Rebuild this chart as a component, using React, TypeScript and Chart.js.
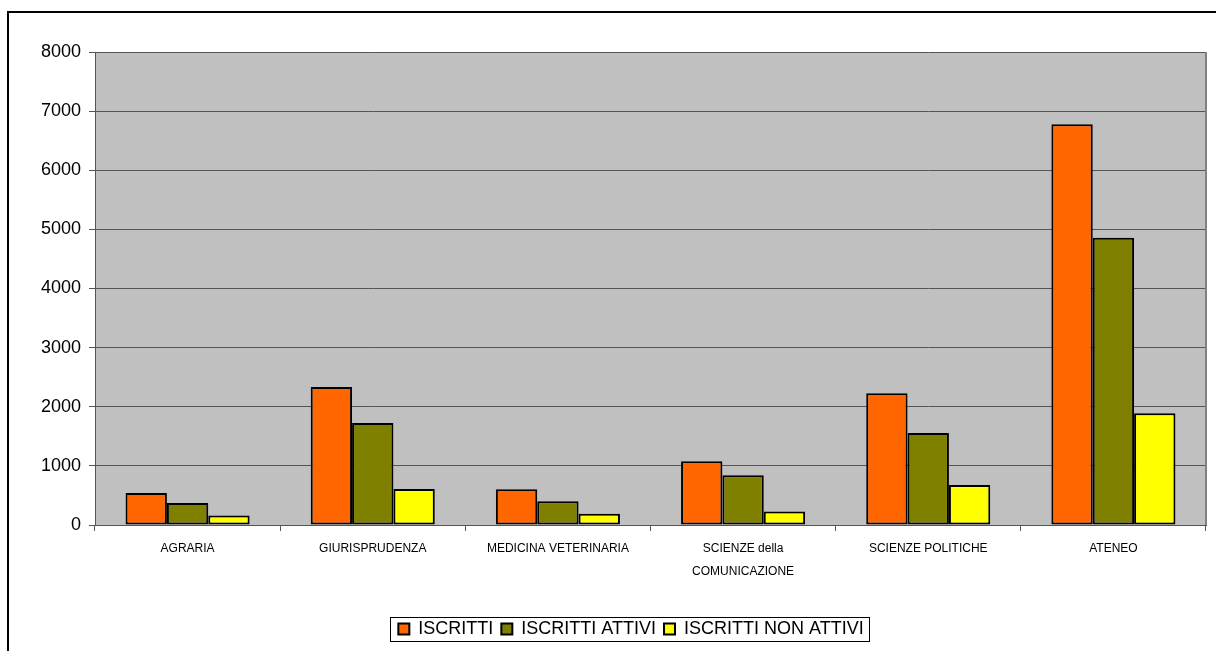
import React, { useEffect, useRef } from "react";
import { Chart, registerables } from "chart.js";

Chart.register(...registerables);

const categories: (string | string[])[] = [
  "AGRARIA",
  "GIURISPRUDENZA",
  "MEDICINA VETERINARIA",
  ["SCIENZE della", "COMUNICAZIONE"],
  "SCIENZE POLITICHE",
  "ATENEO",
];
const seriesNames = ["ISCRITTI", "ISCRITTI ATTIVI", "ISCRITTI NON ATTIVI"];
const iscritti = [540, 2335, 605, 1080, 2230, 6780];
const iscrittiAttivi = [370, 1725, 400, 840, 1555, 4860];
const iscrittiNonAttivi = [160, 607, 190, 230, 675, 1890];
const yTicks = [0, 1000, 2000, 3000, 4000, 5000, 6000, 7000, 8000];

const colors = ["#FF6600", "#808000", "#FFFF00"];

const FONT = "'Liberation Sans', Arial, sans-serif";

const plotBg = {
  id: "plotBg",
  afterLayout(chart: any) {
    const lg = chart.legend;
    if (lg) {
      lg.left += 28;
      lg.right += 28;
    }
  },
  beforeDraw(chart: any) {
    const { ctx, chartArea } = chart;
    ctx.save();
    ctx.fillStyle = "#C0C0C0";
    ctx.fillRect(chartArea.left, chartArea.top, chartArea.right - chartArea.left, chartArea.bottom - chartArea.top);
    ctx.restore();
  },
  afterDatasetsDraw(chart: any) {
    const { ctx, chartArea } = chart;
    ctx.save();
    ctx.strokeStyle = "#808080";
    ctx.lineWidth = 2;
    ctx.beginPath();
    ctx.moveTo(chartArea.right, chartArea.top);
    ctx.lineTo(chartArea.right, chartArea.bottom);
    ctx.stroke();
    ctx.restore();
  },
  afterDraw(chart: any) {
    const lg = chart.legend;
    if (!lg || !lg.legendHitBoxes || !lg.legendHitBoxes.length) return;
    const boxes = lg.legendHitBoxes;
    const left = Math.min(...boxes.map((b: any) => b.left)) - 8;
    const right = Math.max(...boxes.map((b: any) => b.left + b.width)) + 6;
    const cy = boxes[0].top + boxes[0].height / 2;
    const { ctx } = chart;
    ctx.save();
    ctx.strokeStyle = "#000";
    ctx.lineWidth = 1;
    ctx.strokeRect(Math.round(left) + 0.5, Math.round(cy - 12) + 0.5, Math.round(right - left), 24);
    ctx.restore();
  },
};

export default function App() {
  const ref = useRef<HTMLCanvasElement>(null);
  useEffect(() => {
    if (!ref.current) return;
    const data = [iscritti, iscrittiAttivi, iscrittiNonAttivi];
    const chart = new Chart(ref.current, {
      type: "bar",
      data: {
        labels: categories,
        datasets: seriesNames.map((name, i) => ({
          label: name,
          data: data[i],
          backgroundColor: colors[i],
          borderColor: "#000",
          borderWidth: 2,
          borderSkipped: false,
          categoryPercentage: 0.67,
          barPercentage: 1.0,
        })),
      },
      options: {
        animation: false,
        responsive: false,
        maintainAspectRatio: false,
        layout: { padding: { left: 0, right: 10, top: 52, bottom: 3 } },
        plugins: {
          tooltip: { enabled: false },
          legend: {
            position: "bottom",
            labels: {
              color: "#000",
              font: { family: FONT, size: 18 },
              boxWidth: 11,
              boxHeight: 11,
              padding: 8,
              useBorderRadius: false,
            },
          },
        },
        scales: {
          x: {
            grid: { display: true, drawOnChartArea: false, drawTicks: true, tickLength: 6, color: "#555", offset: true },
            border: { display: true, color: "#555", width: 1 },
            ticks: { color: "#000", font: { family: FONT, size: 12, lineHeight: 1.9 }, maxRotation: 0, autoSkip: false, padding: 6 },
            afterFit: (s: any) => { s.height = 87; },
          },
          y: {
            min: 0,
            max: 8000,
            afterBuildTicks: (s: any) => { s.ticks = yTicks.map((v) => ({ value: v })); },
            grid: { color: "#555", lineWidth: 1, tickLength: 6, drawTicks: true },
            border: { display: true, color: "#555", width: 1 },
            ticks: { color: "#000", font: { family: FONT, size: 18 }, padding: 8, callback: (v: any) => String(v) },
            afterFit: (s: any) => { s.width = 95; },
          },
        },
      },
      plugins: [plotBg],
    });
    return () => chart.destroy();
  }, []);
  return (
    <div>
      <canvas ref={ref} width={1216} height={651} style={{ position: "absolute", left: 0, top: 0, width: 1216, height: 651 }} />
      <div style={{ position: "absolute", left: 7, top: 11, width: 1230, height: 660, border: "2px solid #000", pointerEvents: "none" }} />
    </div>
  );
}
